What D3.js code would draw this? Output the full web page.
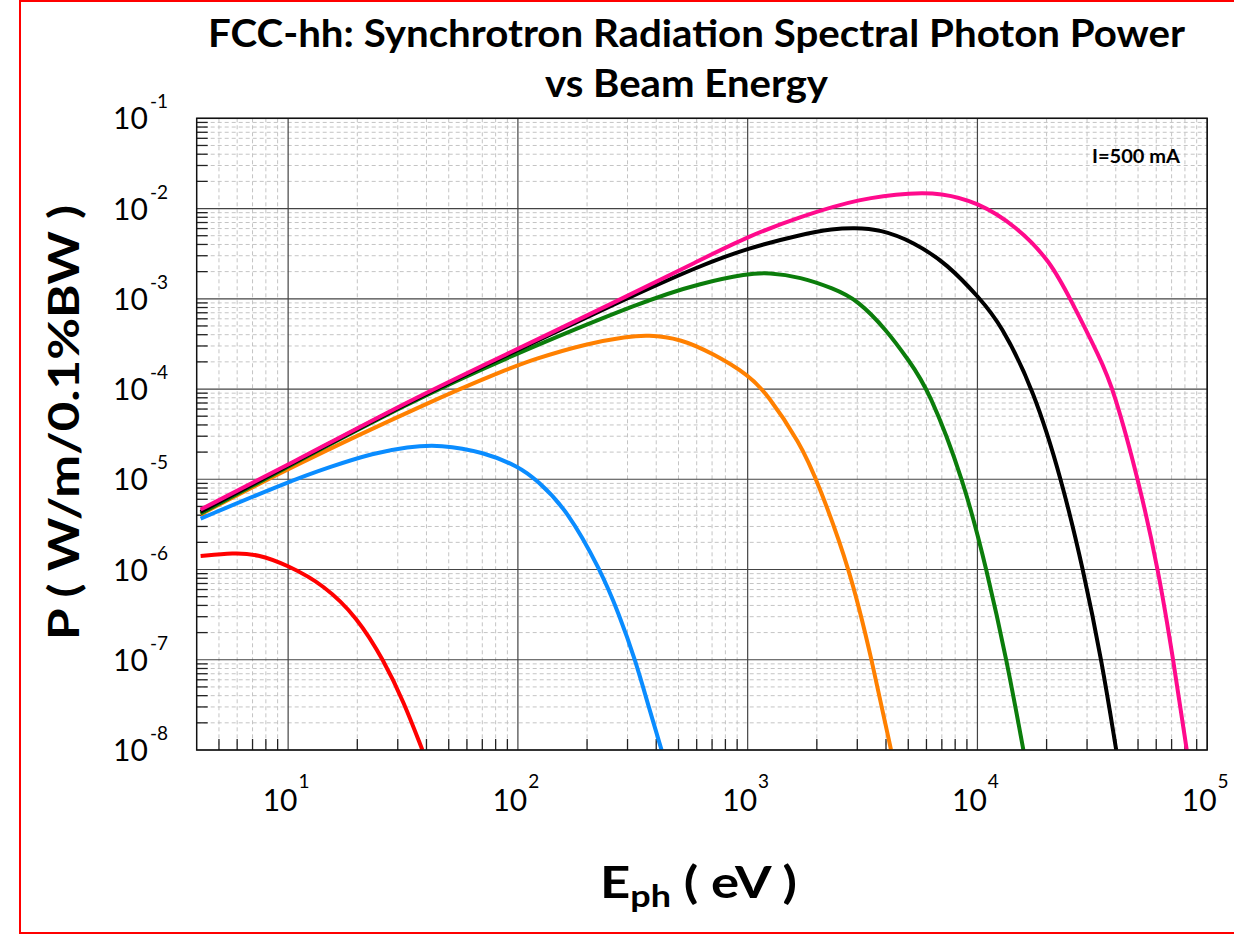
<!DOCTYPE html>
<html>
<head>
<meta charset="utf-8">
<script src="https://cdnjs.cloudflare.com/ajax/libs/d3/7.8.5/d3.min.js"></script>
<style>
  body { margin: 0; background: #fff; }
  svg { display: block; }
</style>
</head>
<body>
<div id="chart"></div>
<script>
// photon energy (eV) / spectral power (W/m/0.1%BW)
const redE = [4.16, 5.81, 7.35, 9.93, 14.3, 20.0, 26.1, 31.9, 38.4];
const redP = [1.41e-6, 1.53e-6, 1.48e-6, 1.12e-6, 6.76e-7, 2.95e-7, 9.8e-8, 3.39e-8, 1.0e-8];

const blueE = [4.16, 9.93, 15.3, 23.6, 33.0, 46.0, 71.1, 101, 121, 164, 229, 275, 325, 371, 422];
const blueP = [3.67e-6, 9.3e-6, 1.38e-5, 1.95e-5, 2.29e-5, 2.43e-5, 2.0e-5, 1.38e-5, 9.8e-6, 4.57e-6, 9.8e-7, 3.24e-7, 9.8e-8, 3.0e-8, 1.0e-8];

const orangeE = [4.16, 9.93, 43.1, 84.1, 117, 200, 299, 365, 509, 711, 1009, 1213, 1694, 2004, 2799, 3475, 4207];
const orangeP = [4.07e-6, 1.32e-5, 7.6e-5, 1.55e-4, 2.14e-4, 3.2e-4, 3.8e-4, 3.98e-4, 3.63e-4, 2.45e-4, 1.43e-4, 8.9e-5, 2.5e-5, 9.8e-6, 9.8e-7, 9.8e-8, 1.0e-8];

const greenE = [4.16, 9.93, 34.1, 84.1, 365, 622, 1000, 1230, 1694, 2366, 2992, 4036, 5012, 6124, 8710, 10990, 13430, 15850];
const greenP = [4.17e-6, 1.38e-5, 7.2e-5, 2.09e-4, 9.8e-4, 1.48e-3, 1.9e-3, 1.95e-3, 1.75e-3, 1.30e-3, 9.8e-4, 4.47e-4, 2.09e-4, 1.0e-4, 9.8e-6, 9.8e-7, 9.8e-8, 1.0e-8];

const blackE = [4.16, 9.93, 34.1, 88.3, 282, 622, 1000, 1694, 2366, 2891, 3776, 5272, 7362, 10280, 12560, 17540, 23280, 28910, 34750, 40180];
const blackP = [4.37e-6, 1.41e-5, 7.4e-5, 2.34e-4, 9.5e-4, 2.34e-3, 3.63e-3, 5.13e-3, 5.97e-3, 6.12e-3, 5.89e-3, 4.27e-3, 2.45e-3, 1.0e-3, 5.37e-4, 1.0e-4, 9.8e-6, 9.8e-7, 9.8e-8, 1.0e-8];

const pinkE = [4.16, 9.93, 34.1, 88.3, 279, 622, 1000, 1694, 3090, 5248, 6887, 9954, 14860, 20750, 25350, 34200, 39080, 50230, 61380, 71290, 81470];
const pinkP = [4.62e-6, 1.43e-5, 7.6e-5, 2.4e-4, 9.8e-4, 2.69e-3, 4.9e-3, 8.13e-3, 1.30e-2, 1.50e-2, 1.48e-2, 1.19e-2, 6.3e-3, 2.6e-3, 1.0e-3, 2.2e-4, 1.0e-4, 9.8e-6, 9.8e-7, 9.8e-8, 1.0e-8];

const seriesE = [redE, blueE, orangeE, greenE, blackE, pinkE];
const seriesP = [redP, blueP, orangeP, greenP, blackP, pinkP];
const seriesColor = ['#ff0000', '#0a8cff', '#ff8000', '#0b7d0b', '#000000', '#ff0a8c'];

const xTickExp = [1, 2, 3, 4, 5];
const yTickExp = [-8, -7, -6, -5, -4, -3, -2, -1];

const width = 1234, height = 937;
const plot = { left: 196.7, top: 118.3, right: 1207.2, bottom: 750 };

const svg = d3.select('#chart')
    .append('svg')
    .attr('width', width)
    .attr('height', height)
    .style('font-family', 'Lato, "Noto Sans", sans-serif');

// canvas border
svg.append('rect')
    .attr('x', 20).attr('y', 1)
    .attr('width', 1240).attr('height', 932)
    .attr('fill', 'none')
    .attr('stroke', '#ff0000')
    .attr('stroke-width', 2);

const x = d3.scaleLog().domain([4, 1e5]).range([plot.left, plot.right]);
const y = d3.scaleLog().domain([1e-8, 1e-1]).range([plot.bottom, plot.top]);

// minor / major positions
let xMinor = [], yMinor = [];
for (let e = 0; e <= 4; e++) {
    for (let k = 2; k <= 9; k++) {
        const v = k * Math.pow(10, e);
        if (v > 4 && v < 1e5) xMinor.push(v);
    }
}
for (let e = -8; e <= -2; e++) {
    for (let k = 2; k <= 9; k++) yMinor.push(k * Math.pow(10, e));
}
const xMajor = xTickExp.map(d => Math.pow(10, d));
const yMajor = yTickExp.map(d => Math.pow(10, d));

const grid = svg.append('g').attr('class', 'grid');

grid.selectAll('.xminor')
    .data(xMinor)
    .join('line')
    .attr('x1', d => x(d)).attr('x2', d => x(d))
    .attr('y1', plot.top).attr('y2', plot.bottom)
    .attr('stroke', '#c4c4c4')
    .attr('stroke-dasharray', '4,3');

grid.selectAll('.yminor')
    .data(yMinor)
    .join('line')
    .attr('x1', plot.left).attr('x2', plot.right)
    .attr('y1', d => y(d)).attr('y2', d => y(d))
    .attr('stroke', '#c4c4c4')
    .attr('stroke-dasharray', '4,3');

grid.selectAll('.xmajor')
    .data(xMajor)
    .join('line')
    .attr('x1', d => x(d)).attr('x2', d => x(d))
    .attr('y1', plot.top).attr('y2', plot.bottom)
    .attr('stroke', '#444')
    .attr('stroke-width', 1.2);

grid.selectAll('.ymajor')
    .data(yMajor)
    .join('line')
    .attr('x1', plot.left).attr('x2', plot.right)
    .attr('y1', d => y(d)).attr('y2', d => y(d))
    .attr('stroke', '#444')
    .attr('stroke-width', 1.2);

// inner ticks
const tickLen = 11;
grid.selectAll('.xtick')
    .data(xMinor)
    .join('line')
    .attr('x1', d => x(d)).attr('x2', d => x(d))
    .attr('y1', plot.bottom).attr('y2', plot.bottom - tickLen)
    .attr('stroke', '#222')
    .attr('stroke-width', 1.3);

grid.selectAll('.ytick')
    .data(yMinor)
    .join('line')
    .attr('x1', plot.left).attr('x2', plot.left + tickLen)
    .attr('y1', d => y(d)).attr('y2', d => y(d))
    .attr('stroke', '#222')
    .attr('stroke-width', 1.3);

// curves
svg.append('defs').append('clipPath')
    .attr('id', 'clip')
    .append('rect')
    .attr('x', plot.left).attr('y', plot.top)
    .attr('width', plot.right - plot.left)
    .attr('height', plot.bottom - plot.top);

const lineGen = d3.line()
    .x(d => x(d[0]))
    .y(d => y(d[1]))
    .curve(d3.curveBasis);

const curves = svg.append('g').attr('clip-path', 'url(#clip)');
seriesE.forEach((es, i) => {
    const pts = es.map((e, j) => [e, seriesP[i][j]]);
    curves.append('path')
        .attr('d', lineGen(pts))
        .attr('fill', 'none')
        .attr('stroke', seriesColor[i])
        .attr('stroke-width', 4)
        .attr('stroke-linejoin', 'round');
});

// frame
svg.append('rect')
    .attr('x', plot.left).attr('y', plot.top)
    .attr('width', plot.right - plot.left)
    .attr('height', plot.bottom - plot.top)
    .attr('fill', 'none')
    .attr('stroke', '#111')
    .attr('stroke-width', 1.5);

// tick labels
const yLab = svg.append('g').selectAll('text')
    .data(yTickExp)
    .join('text')
    .attr('x', 168)
    .attr('y', d => y(Math.pow(10, d)) + 11)
    .attr('text-anchor', 'end')
    .attr('fill', '#000');
yLab.append('tspan').attr('font-size', 30).text('10');
yLab.append('tspan').attr('font-size', 19).attr('dx', 2).attr('dy', -21).text(d => d);

const xLab = svg.append('g').selectAll('text')
    .data(xTickExp)
    .join('text')
    .attr('x', d => x(Math.pow(10, d)) - 2)
    .attr('y', 811)
    .attr('text-anchor', 'middle')
    .attr('fill', '#000');
xLab.append('tspan').attr('font-size', 30).text('10');
xLab.append('tspan').attr('font-size', 19).attr('dx', 1).attr('dy', -23).text(d => d);

// titles
svg.append('text')
    .attr('x', 696.5).attr('y', 47)
    .attr('text-anchor', 'middle')
    .attr('font-size', 38).attr('font-weight', 'bold')
    .attr('textLength', 977).attr('lengthAdjust', 'spacingAndGlyphs')
    .text('FCC-hh: Synchrotron Radiation Spectral Photon Power');

svg.append('text')
    .attr('x', 686.5).attr('y', 97)
    .attr('text-anchor', 'middle')
    .attr('font-size', 38).attr('font-weight', 'bold')
    .attr('textLength', 283).attr('lengthAdjust', 'spacingAndGlyphs')
    .text('vs Beam Energy');

svg.append('text')
    .attr('transform', 'translate(79,422.5) rotate(-90)')
    .attr('text-anchor', 'middle')
    .attr('font-size', 42).attr('font-weight', 'bold')
    .attr('textLength', 435).attr('lengthAdjust', 'spacingAndGlyphs')
    .text('P ( W/m/0.1%BW )');

const xt = svg.append('text')
    .attr('x', 698.5).attr('y', 898)
    .attr('text-anchor', 'middle')
    .attr('font-weight', 'bold')
    .attr('textLength', 197).attr('lengthAdjust', 'spacingAndGlyphs');
xt.append('tspan').attr('font-size', 44).text('E');
xt.append('tspan').attr('font-size', 30).attr('dy', 9).text('ph');
xt.append('tspan').attr('font-size', 44).attr('dy', -9).text(' ( eV )');

svg.append('text')
    .attr('x', 1092).attr('y', 163)
    .attr('font-size', 18).attr('font-weight', 'bold')
    .attr('textLength', 88).attr('lengthAdjust', 'spacingAndGlyphs')
    .text('I=500 mA');
</script>
</body>
</html>
